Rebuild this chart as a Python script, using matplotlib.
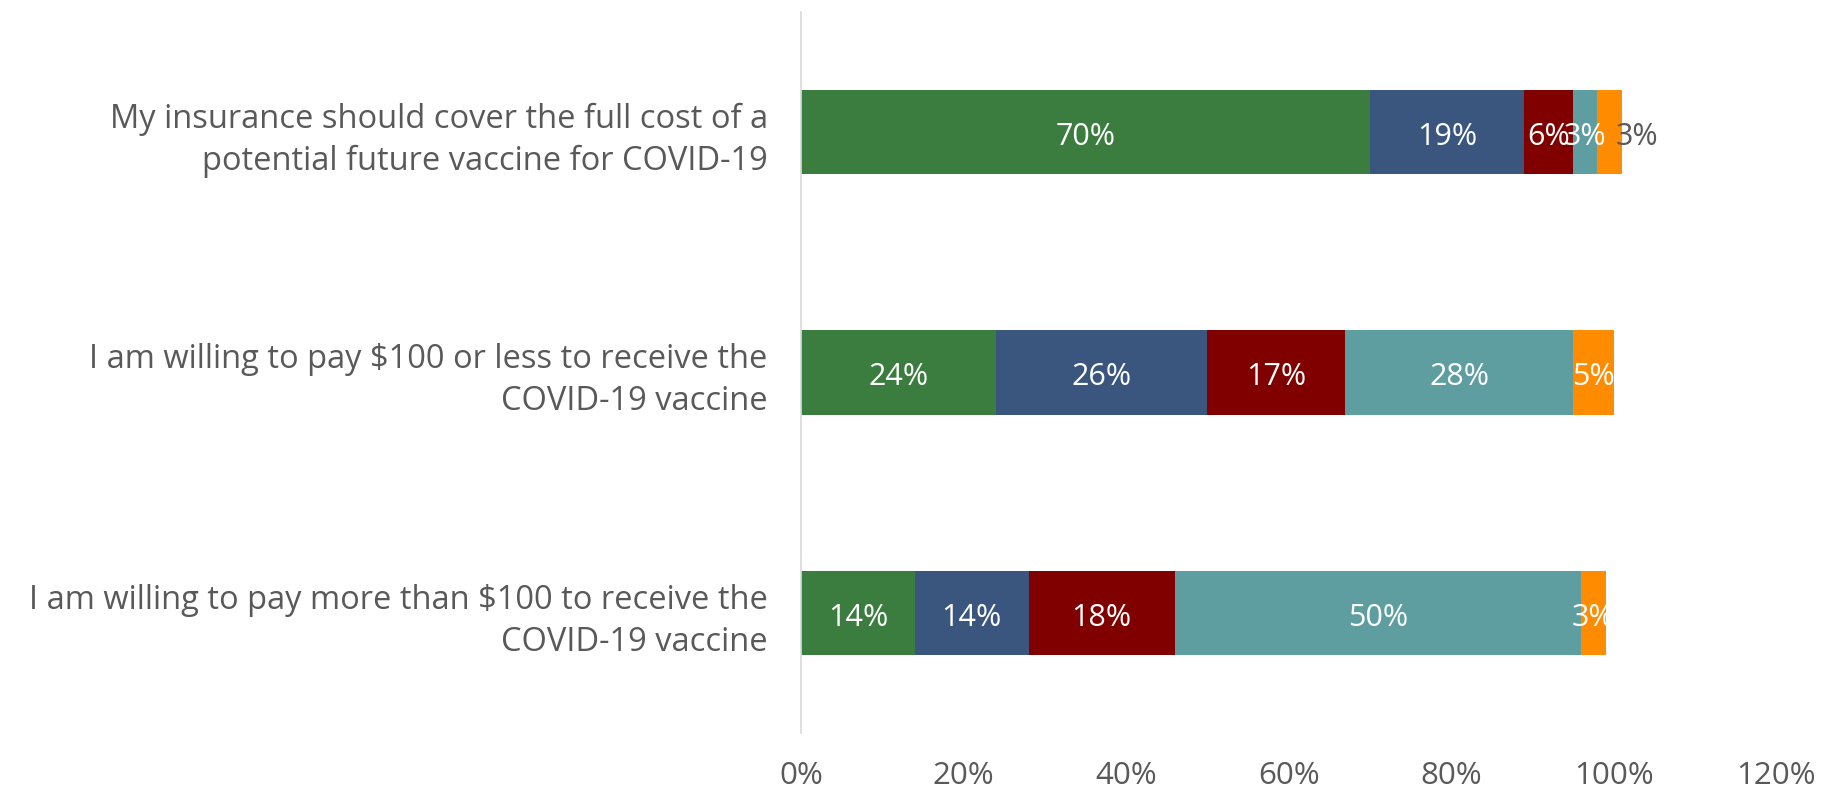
import matplotlib
matplotlib.use("Agg")
import matplotlib.pyplot as plt

categories = [
    "My insurance should cover the full cost of a\npotential future vaccine for COVID-19",
    "I am willing to pay $100 or less to receive the\nCOVID-19 vaccine",
    "I am willing to pay more than $100 to receive the\nCOVID-19 vaccine",
]
series_a = [70, 24, 14]
series_b = [19, 26, 14]
series_c = [6, 17, 18]
series_d = [3, 28, 50]
series_e = [3, 5, 3]
xticks = [0, 20, 40, 60, 80, 100, 120]
xtick_labels = ["0%", "20%", "40%", "60%", "80%", "100%", "120%"]

colors = ["#3A7D3F", "#3A557E", "#800000", "#5F9EA0", "#FF8C00"]
series = [series_a, series_b, series_c, series_d, series_e]

plt.rcParams['font.family'] = ['Open Sans', 'DejaVu Sans']
TXT = "#595959"

fig = plt.figure(figsize=(18.33, 7.90), dpi=100)
ax = fig.add_axes([0.437, 0.072, 0.532, 0.913])

y = list(range(len(categories)))
left = [0] * len(categories)
for si, (vals, col) in enumerate(zip(series, colors)):
    ax.barh(y, vals, left=left, height=0.35, color=col, edgecolor='none')
    for i, v in enumerate(vals):
        cx = left[i] + v / 2
        tcol = "white"
        if si == len(series) - 1 and i == 0:
            cx = left[i] + v + 1.9
            tcol = TXT
        ax.text(cx, y[i] + 0.02, f"{v}%", ha='center', va='center',
                color=tcol, fontsize=22)
    left = [l + v for l, v in zip(left, vals)]

ax.set_xlim(0, 120)
ax.set_ylim(2.5, -0.5)
ax.set_yticks(y)
ax.set_yticklabels(categories, fontsize=23.5, color=TXT, linespacing=1.35)
ax.set_xticks(xticks)
ax.set_xticklabels(xtick_labels, fontsize=22.5, color=TXT)
ax.tick_params(axis='both', length=0)
ax.tick_params(axis='x', pad=20)
ax.tick_params(axis='y', pad=24)
for s in ['top', 'right', 'bottom']:
    ax.spines[s].set_visible(False)
ax.spines['left'].set_color("#D9D9D9")
ax.spines['left'].set_linewidth(1.2)

fig.savefig("out.png", dpi=100)
